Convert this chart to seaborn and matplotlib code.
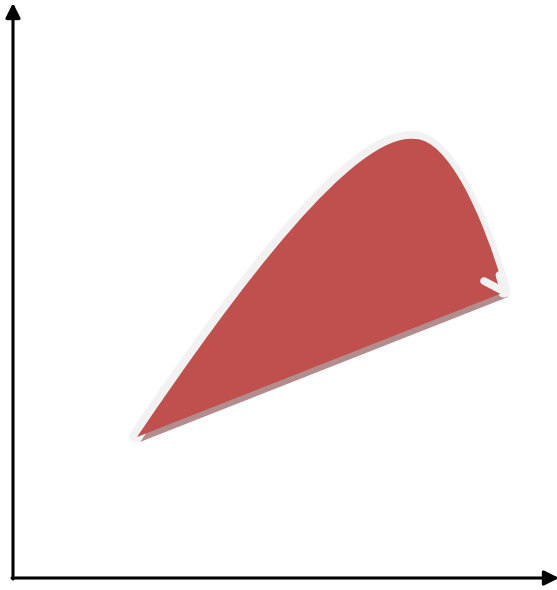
import numpy as np
import pandas as pd
import matplotlib
matplotlib.use('Agg')
import matplotlib.pyplot as plt
from matplotlib.path import Path
from matplotlib.patches import PathPatch
import seaborn as sns

# upper (curved) edge of the red region as two cubic bezier segments,
# image pixel coords (y downwards): start, ctrl, ctrl, peak, ctrl, ctrl, end
curve_x = [137, 240, 355, 415, 447, 482, 505]
curve_y = [437, 285, 132, 139, 139, 212, 292]

# lower (straight) edge runs from the curve end back to the start
# arrow arm at the end of the white curve
arm_x = [484, 503]
arm_y = [281, 291]

red = '#c0504d'
pale = '#f2f2f2'
shadow = '#b38d8d'

sns.set_theme(style='white')
fig = plt.figure(figsize=(5.57, 5.9), dpi=100)
ax = fig.add_axes([0, 0, 1, 1])
ax.set_xlim(0, 557)
ax.set_ylim(590, 0)
ax.axis('off')

pts = np.column_stack([curve_x, curve_y]).astype(float)
curve_codes = [Path.MOVETO] + [Path.CURVE4] * 6


def region(dx=0.0, dy=0.0):
    p = pts + [dx, dy]
    verts = np.vstack([p, p[:1]])
    return Path(verts, curve_codes + [Path.LINETO])


# shadow, offset down-right
ax.add_patch(PathPatch(region(3, 5), fc=shadow, ec='none', zorder=1))

# white curve underneath the fill so only the outer part shows
ax.add_patch(PathPatch(Path(pts + [-1, -1], curve_codes), fc='none', ec=pale,
                       lw=9.5, capstyle='round', zorder=2))

ax.add_patch(PathPatch(region(), fc=red, ec='none', zorder=3))

# arrow head on top of the fill: last bit of the curve plus the side arm
tip = pts[-1] + [-1, -1]
tail = tip - 0.2 * (pts[-1] - pts[-2])
ax.plot([tail[0], tip[0]], [tail[1], tip[1]], color=pale, lw=5.5,
        solid_capstyle='round', zorder=4)
arm = pd.DataFrame({'x': arm_x, 'y': arm_y})
sns.lineplot(data=arm, x='x', y='y', sort=False, estimator=None, color=pale,
             lw=5.5, ax=ax, zorder=4, solid_capstyle='round')

# axes with arrow heads
ax.annotate('', xy=(13, 3), xytext=(13, 579), annotation_clip=False,
            arrowprops=dict(arrowstyle='-|>', lw=2.2, color='black',
                            mutation_scale=22, shrinkA=0, shrinkB=0))
ax.annotate('', xy=(559, 578), xytext=(12, 578), annotation_clip=False,
            arrowprops=dict(arrowstyle='-|>', lw=2.2, color='black',
                            mutation_scale=22, shrinkA=0, shrinkB=0))

fig.savefig('out.png', dpi=100)
